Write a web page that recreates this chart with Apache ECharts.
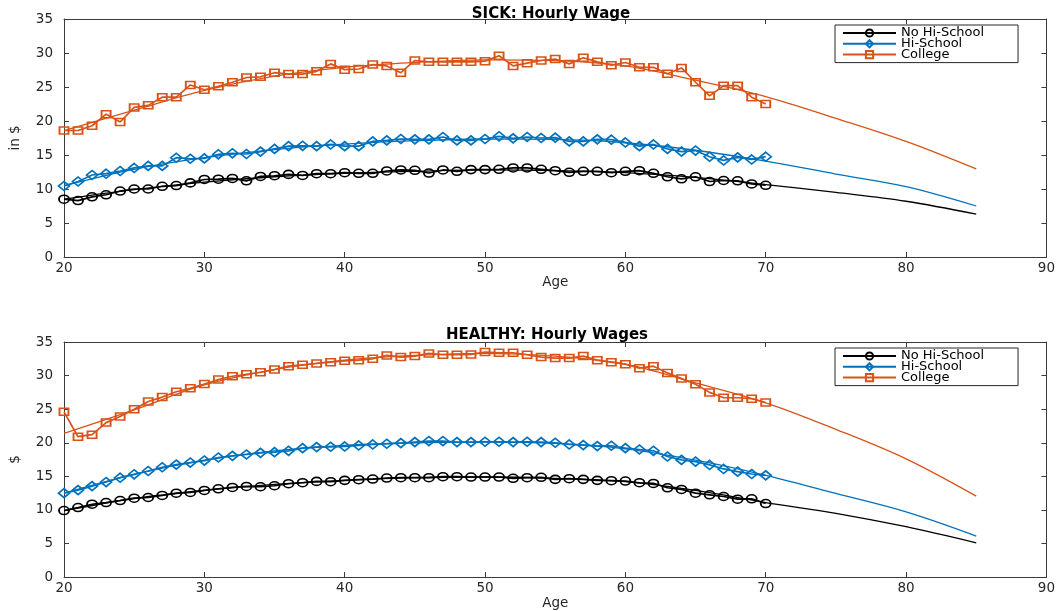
<!DOCTYPE html>
<html>
<head>
<meta charset="utf-8">
<script src="https://cdn.jsdelivr.net/npm/echarts@6/dist/echarts.min.js"></script>
<style>
  html, body { margin: 0; padding: 0; background: #fff; }
  #chart { width: 1058px; height: 611px; }
</style>
</head>
<body>
<div id="chart"></div>
<script>
// Observed ages (one marker per year) and the ages of the fitted profile
const ages = [20,21,22,23,24,25,26,27,28,29,30,31,32,33,34,35,36,37,38,39,40,
              41,42,43,44,45,46,47,48,49,50,51,52,53,54,55,56,57,58,59,60,
              61,62,63,64,65,66,67,68,69,70];
const fitAges = [20,25,30,35,40,45,50,55,60,65,70,75,80,85];

const groupNames = ['No Hi-School', 'Hi-School', 'College'];
const xTicks = [20, 30, 40, 50, 60, 70, 80, 90];
const yTicks = [0, 5, 10, 15, 20, 25, 30, 35];

// SICK: observed hourly wage by age
const sickNoHS = [8.5,8.3,8.85,9.15,9.7,10.0,10.0,10.4,10.5,10.9,
  11.4,11.45,11.55,11.2,11.85,11.95,12.15,12.0,12.25,12.25,
  12.4,12.3,12.3,12.65,12.8,12.75,12.35,12.8,12.6,12.85,
  12.85,12.9,13.1,13.1,12.9,12.7,12.45,12.6,12.6,12.4,
  12.6,12.7,12.3,11.8,11.5,11.8,11.1,11.25,11.2,10.75,
  10.55];
const sickHS = [10.44,11.1,12.06,12.25,12.65,13.1,13.4,13.4,14.6,14.45,
  14.5,15.1,15.25,15.15,15.5,15.9,16.3,16.35,16.3,16.55,
  16.3,16.3,17.0,17.15,17.35,17.3,17.3,17.65,17.15,17.15,
  17.35,17.75,17.45,17.65,17.5,17.55,17.0,17.0,17.3,17.25,
  16.85,16.3,16.55,15.9,15.5,15.65,14.75,14.2,14.65,14.35,
  14.75];
const sickCol = [18.6,18.6,19.3,21.0,19.85,22.0,22.3,23.5,23.5,25.3,
  24.6,25.1,25.7,26.4,26.5,27.1,26.9,26.9,27.3,28.4,
  27.55,27.65,28.3,28.1,27.1,28.9,28.7,28.7,28.7,28.7,
  28.8,29.6,28.1,28.5,28.9,29.1,28.4,29.3,28.7,28.2,
  28.6,27.9,27.9,26.95,27.8,25.7,23.7,25.2,25.2,23.5,
  22.5];

// SICK: fitted profile
const sickFitNoHS = [8.5,9.9,11.0,11.8,12.3,12.6,12.8,12.7,12.4,11.7,10.65,9.5,8.2,6.3];
const sickFitHS   = [10.5,12.9,14.6,15.8,16.6,17.1,17.35,17.3,16.8,15.7,14.1,12.2,10.35,7.5];
const sickFitCol  = [18.6,21.6,24.5,26.6,27.9,28.6,29.0,28.9,28.1,26.0,23.6,20.4,17.0,12.95];

// HEALTHY: observed hourly wage by age
const healthyNoHS = [9.9,10.35,10.85,11.1,11.4,11.75,11.85,12.15,12.5,12.6,
  12.9,13.15,13.35,13.5,13.45,13.6,13.9,14.05,14.25,14.2,
  14.4,14.5,14.6,14.75,14.8,14.8,14.8,14.95,14.95,14.9,
  14.9,14.9,14.7,14.8,14.85,14.55,14.65,14.55,14.4,14.35,
  14.3,14.05,13.95,13.3,13.05,12.5,12.25,12.0,11.6,11.65,
  10.95];
const healthyHS = [12.5,12.95,13.55,14.15,14.8,15.3,15.8,16.35,16.75,17.05,
  17.35,17.8,18.05,18.25,18.5,18.6,18.8,19.2,19.35,19.4,
  19.45,19.6,19.75,19.85,19.95,20.1,20.25,20.25,20.1,20.1,
  20.15,20.15,20.1,20.15,20.1,20.0,19.75,19.65,19.5,19.55,
  19.2,19.0,18.8,17.95,17.45,17.2,16.7,16.1,15.7,15.35,
  15.15];
const healthyCol = [24.6,20.9,21.2,23.0,23.9,25.0,26.15,26.8,27.6,28.1,
  28.75,29.4,29.9,30.2,30.5,30.9,31.4,31.6,31.8,32.0,
  32.2,32.3,32.5,33.0,32.75,32.9,33.3,33.1,33.1,33.15,
  33.5,33.4,33.4,33.1,32.75,32.6,32.6,32.9,32.3,32.0,
  31.7,31.1,31.4,30.4,29.55,28.7,27.5,26.7,26.7,26.55,
  26.0];

// HEALTHY: fitted profile
const healthyFitNoHS = [9.9,11.7,12.9,13.8,14.4,14.8,14.9,14.7,14.2,12.9,11.1,9.5,7.5,5.1];
const healthyFitHS   = [12.5,15.3,17.4,18.8,19.6,20.0,20.1,19.9,19.1,17.4,15.15,12.45,9.7,6.1];
const healthyFitCol  = [21.4,24.9,28.6,30.9,32.3,33.0,33.3,32.9,31.7,28.9,25.95,22.0,17.6,12.05];

const colors = ['#000000', '#0072BD', '#D95319'];
const symbols = ['circle', 'diamond', 'rect'];
const symbolSizes = [[10, 8], [11, 9], [9, 7]];
const axisColor = '#3a3a3a';
const textColor = '#262626';
const font = 'DejaVu Sans';

const pairs = (xs, ys) => xs.map((x, i) => [x, ys[i]]);

const grids = [
  { left: 64, top: 19, width: 985, height: 238 },
  { left: 64, top: 342, width: 985, height: 237 }
];

function xAxes(gridIndex) {
  const base = {
    type: 'value', gridIndex, min: xTicks[0], max: xTicks[xTicks.length - 1], interval: 10,
    splitLine: { show: false },
    axisLine: { show: true, onZero: false, lineStyle: { color: axisColor, width: 1 } },
    axisTick: { show: true, inside: true, length: 5, lineStyle: { color: axisColor } }
  };
  return [
    Object.assign({}, base, {
      position: 'bottom',
      name: 'Age', nameLocation: 'middle', nameGap: 16,
      nameTextStyle: { fontFamily: font, fontSize: 13.5, color: textColor },
      axisLabel: { fontFamily: font, fontSize: 13.5, color: textColor, margin: 4 }
    }),
    Object.assign({}, base, { position: 'top', axisLabel: { show: false } })
  ];
}

function yAxes(gridIndex, name) {
  const base = {
    type: 'value', gridIndex, min: yTicks[0], max: yTicks[yTicks.length - 1], interval: 5,
    splitLine: { show: false },
    axisLine: { show: true, onZero: false, lineStyle: { color: axisColor, width: 1 } },
    axisTick: { show: true, inside: true, length: 5, lineStyle: { color: axisColor } }
  };
  return [
    Object.assign({}, base, {
      position: 'left',
      name, nameLocation: 'middle', nameGap: 42, nameRotate: 90,
      nameTextStyle: { fontFamily: font, fontSize: 13.5, color: textColor },
      axisLabel: { fontFamily: font, fontSize: 13.5, color: textColor, margin: 11 }
    }),
    Object.assign({}, base, { position: 'right', axisLabel: { show: false } })
  ];
}

function panelSeries(panel, observed, fitted) {
  const out = [];
  observed.forEach((vals, k) => {
    out.push({
      name: groupNames[k], type: 'line',
      xAxisIndex: panel * 2, yAxisIndex: panel * 2,
      data: pairs(ages, vals),
      symbol: symbols[k], symbolSize: symbolSizes[k],
      showAllSymbol: true,
      lineStyle: { color: colors[k], width: 1.7 },
      itemStyle: { color: 'rgba(255,255,255,0)', borderColor: colors[k], borderWidth: 1.7 },
      emphasis: { disabled: true },
      z: 3
    });
  });
  fitted.forEach((vals, k) => {
    out.push({
      name: groupNames[k] + ' profile', type: 'line',
      xAxisIndex: panel * 2, yAxisIndex: panel * 2,
      data: pairs(fitAges, vals),
      smooth: 0.35, showSymbol: false, symbol: 'none',
      lineStyle: { color: colors[k], width: 1.3 },
      emphasis: { disabled: true },
      z: 2
    });
  });
  return out;
}

function legendAt(top) {
  return {
    data: groupNames, orient: 'vertical', left: 835, top,
    selectedMode: false,
    itemWidth: 53, itemHeight: 9, itemGap: -2.2, itemTextGap: 11,
    padding: [1.5, 34, 1.5, 7],
    borderColor: '#262626', borderWidth: 1, borderRadius: 0,
    backgroundColor: '#ffffff',
    textStyle: { fontFamily: font, fontSize: 13, color: '#000' }
  };
}

const chart = echarts.init(document.getElementById('chart'), null, { renderer: 'canvas' });
chart.setOption({
  animation: false,
  backgroundColor: '#ffffff',
  title: [
    { text: 'SICK: Hourly Wage', left: 546, top: 2, textAlign: 'center',
      textStyle: { fontFamily: font, fontWeight: 'bold', fontSize: 15, color: '#000' } },
    { text: 'HEALTHY: Hourly Wages', left: 542, top: 323, textAlign: 'center',
      textStyle: { fontFamily: font, fontWeight: 'bold', fontSize: 15, color: '#000' } }
  ],
  legend: [legendAt(25), legendAt(348)],
  grid: grids,
  xAxis: xAxes(0).concat(xAxes(1)),
  yAxis: yAxes(0, 'in $').concat(yAxes(1, '$')),
  series: panelSeries(0, [sickNoHS, sickHS, sickCol], [sickFitNoHS, sickFitHS, sickFitCol])
    .concat(panelSeries(1, [healthyNoHS, healthyHS, healthyCol], [healthyFitNoHS, healthyFitHS, healthyFitCol]))
});
</script>
</body>
</html>
